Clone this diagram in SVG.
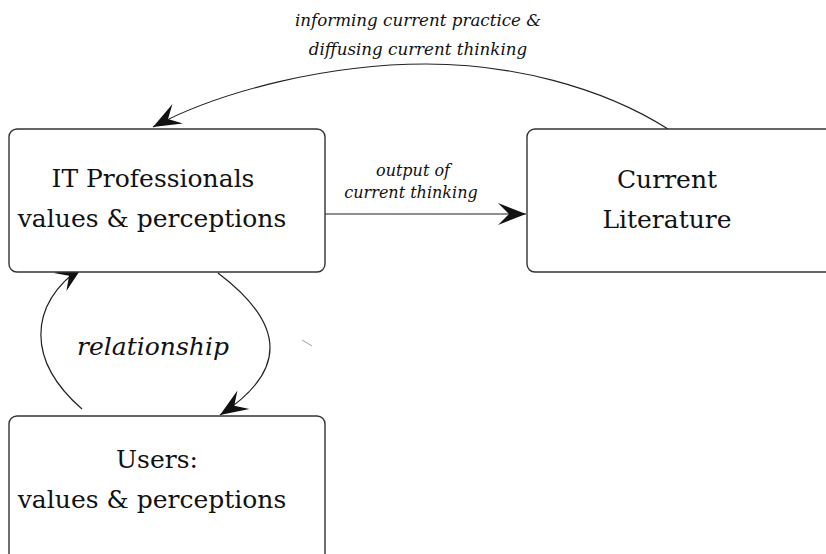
<svg xmlns="http://www.w3.org/2000/svg" width="826" height="554" viewBox="0 0 826 554">
  <style>
    .box { fill: #ffffff; stroke: #333333; stroke-width: 1.4; }
    .conn { fill: none; stroke: #222222; stroke-width: 1.2; }
  </style>
  <defs>
    <!-- barbed arrowhead shared by every connector -->
    <marker id="barb" viewBox="-30 -13 32 26" markerWidth="32" markerHeight="26" refX="0" refY="0" orient="auto" markerUnits="userSpaceOnUse">
      <path d="M0,0 L-28,-11 L-17,0 L-28,11 Z" fill="#111111"/>
    </marker>
  </defs>
  <rect width="826" height="554" fill="#ffffff"/>

  <g id="connectors">
    <path class="conn" d="M325,214 L526,214" marker-end="url(#barb)"/>
    <path class="conn" d="M668,129 C600,86 510,64 426,64 C330,64 222,90 153,127" marker-end="url(#barb)"/>
    <path class="conn" d="M82,409 C28,362 26,306 83,266" marker-end="url(#barb)"/>
    <path class="conn" d="M218,273 C288,326 286,372 220,415" marker-end="url(#barb)"/>
  </g>

  <g font-family="DejaVu Serif, serif" fill="#111111" text-anchor="middle">
    <g id="it-professionals" font-size="25">
      <rect class="box" x="9" y="129" width="316" height="143" rx="8"/>
      <text x="153" y="187">IT Professionals</text>
      <text x="152" y="227">values &amp; perceptions</text>
    </g>

    <g id="current-literature" font-size="25">
      <rect class="box" x="527" y="129" width="320" height="143" rx="8"/>
      <text x="667" y="188">Current</text>
      <text x="667" y="228">Literature</text>
    </g>

    <g id="users" font-size="25">
      <rect class="box" x="9" y="416" width="316" height="160" rx="8"/>
      <text x="157" y="468">Users:</text>
      <text x="152" y="508">values &amp; perceptions</text>
    </g>

    <g id="labels" font-style="italic">
      <text x="418" y="26" font-size="16.7">informing current practice &amp;</text>
      <text x="418" y="55" font-size="16.7">diffusing current thinking</text>
      <text x="413" y="176" font-size="16">output of</text>
      <text x="411" y="198" font-size="16">current thinking</text>
      <text x="153" y="355" font-size="25">relationship</text>
    </g>
  </g>

  <line x1="302" y1="340" x2="312" y2="346" stroke="#888888" stroke-width="0.8"/>
</svg>
